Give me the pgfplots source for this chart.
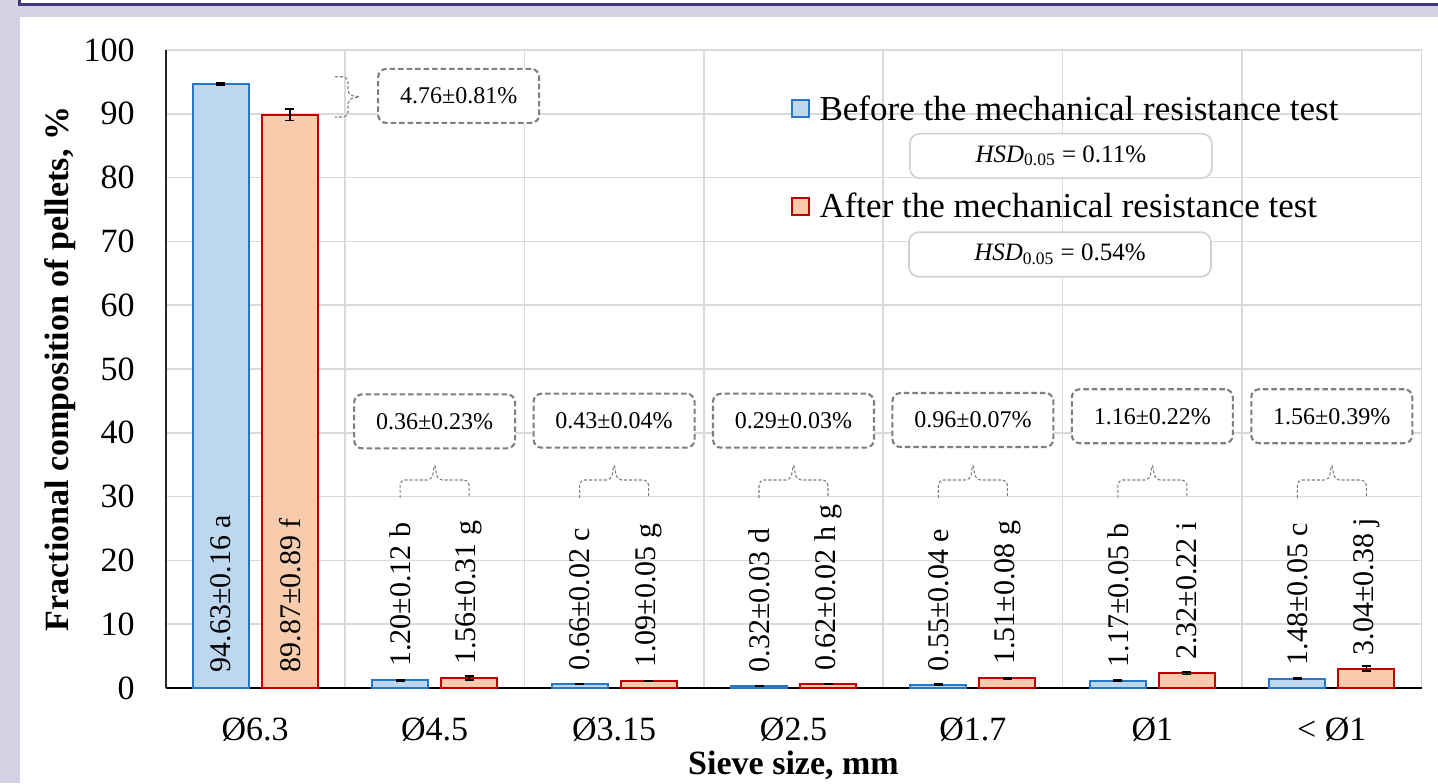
\documentclass[border=0pt]{standalone}
\usepackage{pgfplots}
\pgfplotsset{compat=1.18}
\usepackage{fontspec}
\setmainfont{Liberation Serif}
\definecolor{lav}{HTML}{D4D2E4}
\definecolor{darkframe}{HTML}{3F3A7A}
\definecolor{gridgray}{HTML}{D9D9D9}
\definecolor{barblue}{HTML}{BDD7EE}
\definecolor{edgeblue}{HTML}{2878C8}
\definecolor{barorange}{HTML}{F8CBAD}
\definecolor{edgered}{HTML}{C00000}
\definecolor{callgray}{HTML}{7F7F7F}
\definecolor{hsdgray}{HTML}{D0D0D0}
\begin{document}
\begin{tikzpicture}
\fill[lav] (0,0) rectangle (719pt,391.5pt);
\fill[white] (10pt,0) rectangle (719pt,383pt);
\fill[white] (10.5pt,390pt) rectangle (719pt,391.5pt);
\fill[darkframe] (9pt,388.4pt) rectangle (719pt,389.9pt);
\fill[darkframe] (9pt,388.4pt) rectangle (10.5pt,391.5pt);
\begin{axis}[
  at={(82.75pt,47.5pt)}, anchor=south west,
  scale only axis, width=628pt, height=319pt,
  xmin=-0.5, xmax=6.5, ymin=0, ymax=100,
  xtick={0,...,6},
  xticklabels={Ø6.3,Ø4.5,Ø3.15,Ø2.5,Ø1.7,Ø1,< Ø1},
  minor xtick={-0.5,0.5,...,6.5},
  ytick={0,10,...,100},
  xmajorgrids=false, xminorgrids=true, ymajorgrids=true,
  major grid style={draw=gridgray, line width=0.75pt},
  minor grid style={draw=gridgray, line width=0.75pt},
  axis x line*=bottom, axis y line*=left,
  x axis line style={-, line width=1pt, black},
  y axis line style={-, line width=1pt, black!85},
  major tick length=0pt, minor tick length=0pt,
  tick label style={font=\fontsize{17}{20}\selectfont},
  /pgf/number format/assume math mode=true,
  yticklabel style={anchor=east, inner sep=0pt, xshift=-15.25pt},
  xticklabel style={anchor=base, inner sep=0pt, yshift=-26pt},
  xlabel={Sieve size, mm},
  ylabel={Fractional composition of pellets, \%},
  every axis x label/.style={at={(axis description cs:0.5,-0.1348)}, anchor=base, font=\fontsize{17}{20}\selectfont\bfseries},
  every axis y label/.style={at={(axis description cs:-0.0776,0.5)}, rotate=90, anchor=base, font=\fontsize{17}{20}\selectfont\bfseries},
  clip=false,
]
% Before (blue), plotted at category - 0.1923
\addplot[ybar, bar width=28pt, bar shift=0pt, fill=barblue, draw=edgeblue, line width=1pt,
  error bars/.cd, y dir=both, y explicit,
  error bar style={black, line width=0.8pt},
  error mark options={rotate=90, black, mark size=2.25pt, line width=0.8pt}]
  coordinates {(-0.1923,94.63) +- (0,0.16) (0.8077,1.20) +- (0,0.12) (1.8077,0.66) +- (0,0.02) (2.8077,0.32) +- (0,0.03)
               (3.8077,0.55) +- (0,0.04) (4.8077,1.17) +- (0,0.05) (5.8077,1.48) +- (0,0.05)};
% After (orange), plotted at category + 0.1923
\addplot[ybar, bar width=28pt, bar shift=0pt, fill=barorange, draw=edgered, line width=1pt,
  error bars/.cd, y dir=both, y explicit,
  error bar style={black, line width=0.8pt},
  error mark options={rotate=90, black, mark size=2.25pt, line width=0.8pt}]
  coordinates {(0.1923,89.87) +- (0,0.89) (1.1923,1.56) +- (0,0.31) (2.1923,1.09) +- (0,0.05) (3.1923,0.62) +- (0,0.02)
               (4.1923,1.51) +- (0,0.08) (5.1923,2.32) +- (0,0.22) (6.1923,3.04) +- (0,0.38)};
% value labels
\begin{scope}[every node/.style={rotate=90, anchor=west, inner sep=0pt, font=\fontsize{15}{18}\selectfont}]
\node at (axis cs:-0.1923,2.4) {94.63±0.16 a};
\node at (axis cs:0.1923,2.4) {89.87±0.89 f};
\node at (axis cs:0.8077,3.25) {1.20±0.12 b};
\node at (axis cs:1.1923,3.61) {1.56±0.31 g};
\node at (axis cs:1.8077,2.71) {0.66±0.02 c};
\node at (axis cs:2.1923,3.14) {1.09±0.05 g};
\node at (axis cs:2.8077,2.37) {0.32±0.03 d};
\node at (axis cs:3.1923,2.67) {0.62±0.02 h g};
\node at (axis cs:3.8077,2.60) {0.55±0.04 e};
\node at (axis cs:4.1923,3.56) {1.51±0.08 g};
\node at (axis cs:4.8077,3.22) {1.17±0.05 b};
\node at (axis cs:5.1923,4.37) {2.32±0.22 i};
\node at (axis cs:5.8077,3.53) {1.48±0.05 c};
\node at (axis cs:6.1923,5.09) {3.04±0.38 j};
\end{scope}
% braces
\begin{scope}[callgray, line width=0.55pt, dash pattern=on 1.5pt off 1pt, rounded corners=2.5pt]
\draw (axis cs:0.445,95.8) -- (axis cs:0.517,95.8) -- (axis cs:0.517,92.9) -- (axis cs:0.596,92.65) -- (axis cs:0.517,92.4) -- (axis cs:0.517,89.5) -- (axis cs:0.445,89.5);
\draw (axis cs:0.8077,29.8) -- (axis cs:0.8077,32.6) -- (axis cs:0.985,32.6) -- (axis cs:1.0,35.3) -- (axis cs:1.015,32.6) -- (axis cs:1.1923,32.6) -- (axis cs:1.1923,29.8);
\draw (axis cs:1.8077,29.8) -- (axis cs:1.8077,32.6) -- (axis cs:1.985,32.6) -- (axis cs:2.0,35.3) -- (axis cs:2.015,32.6) -- (axis cs:2.1923,32.6) -- (axis cs:2.1923,29.8);
\draw (axis cs:2.8077,29.8) -- (axis cs:2.8077,32.6) -- (axis cs:2.985,32.6) -- (axis cs:3.0,35.3) -- (axis cs:3.015,32.6) -- (axis cs:3.1923,32.6) -- (axis cs:3.1923,29.8);
\draw (axis cs:3.8077,29.8) -- (axis cs:3.8077,32.6) -- (axis cs:3.985,32.6) -- (axis cs:4.0,35.3) -- (axis cs:4.015,32.6) -- (axis cs:4.1923,32.6) -- (axis cs:4.1923,29.8);
\draw (axis cs:4.8077,29.8) -- (axis cs:4.8077,32.6) -- (axis cs:4.985,32.6) -- (axis cs:5.0,35.3) -- (axis cs:5.015,32.6) -- (axis cs:5.1923,32.6) -- (axis cs:5.1923,29.8);
\draw (axis cs:5.8077,29.8) -- (axis cs:5.8077,32.6) -- (axis cs:5.985,32.6) -- (axis cs:6.0,35.3) -- (axis cs:6.015,32.6) -- (axis cs:6.1923,32.6) -- (axis cs:6.1923,29.8);
\end{scope}
% callout boxes
\begin{scope}[every node/.style={draw=callgray, line width=1.05pt, dash pattern=on 2.75pt off 1.5pt, rounded corners=4pt, fill=white, minimum width=80.5pt, minimum height=27pt, inner sep=0pt, font=\fontsize{12}{14}\selectfont}]
\node at (axis cs:1.134,92.8) {4.76±0.81\%};
\node at (axis cs:1,41.8) {0.36±0.23\%};
\node at (axis cs:2,41.9) {0.43±0.04\%};
\node at (axis cs:3,41.9) {0.29±0.03\%};
\node at (axis cs:4,42.0) {0.96±0.07\%};
\node at (axis cs:5,42.6) {1.16±0.22\%};
\node at (axis cs:6,42.6) {1.56±0.39\%};
\end{scope}
% legend
\draw[fill=barblue, draw=edgeblue, line width=0.8pt] (axis cs:2.9916,89.5) rectangle ++(8.5pt,8.5pt);
\draw[fill=barorange, draw=edgered, line width=0.8pt] (axis cs:2.9916,74.1) rectangle ++(8.5pt,8.5pt);
\node[anchor=base west, inner sep=0pt, font=\fontsize{17.5}{20}\selectfont] at (axis cs:3.143,89.0) {Before the mechanical resistance test};
\node[anchor=base west, inner sep=0pt, font=\fontsize{17.5}{20}\selectfont] at (axis cs:3.143,73.8) {After the mechanical resistance test};
\begin{scope}[every node/.style={draw=hsdgray, line width=0.8pt, rounded corners=5pt, fill=white, minimum width=151pt, minimum height=22.25pt, inner sep=0pt, font=\fontsize{12.5}{14}\selectfont}]
\node at (axis cs:4.49,83.4) {\textit{HSD}\textsubscript{0.05} = 0.11\%};
\node at (axis cs:4.485,67.95) {\textit{HSD}\textsubscript{0.05} = 0.54\%};
\end{scope}
\end{axis}
\pgfresetboundingbox
\useasboundingbox (0,0) rectangle (719pt,391.5pt);
\end{tikzpicture}
\end{document}
